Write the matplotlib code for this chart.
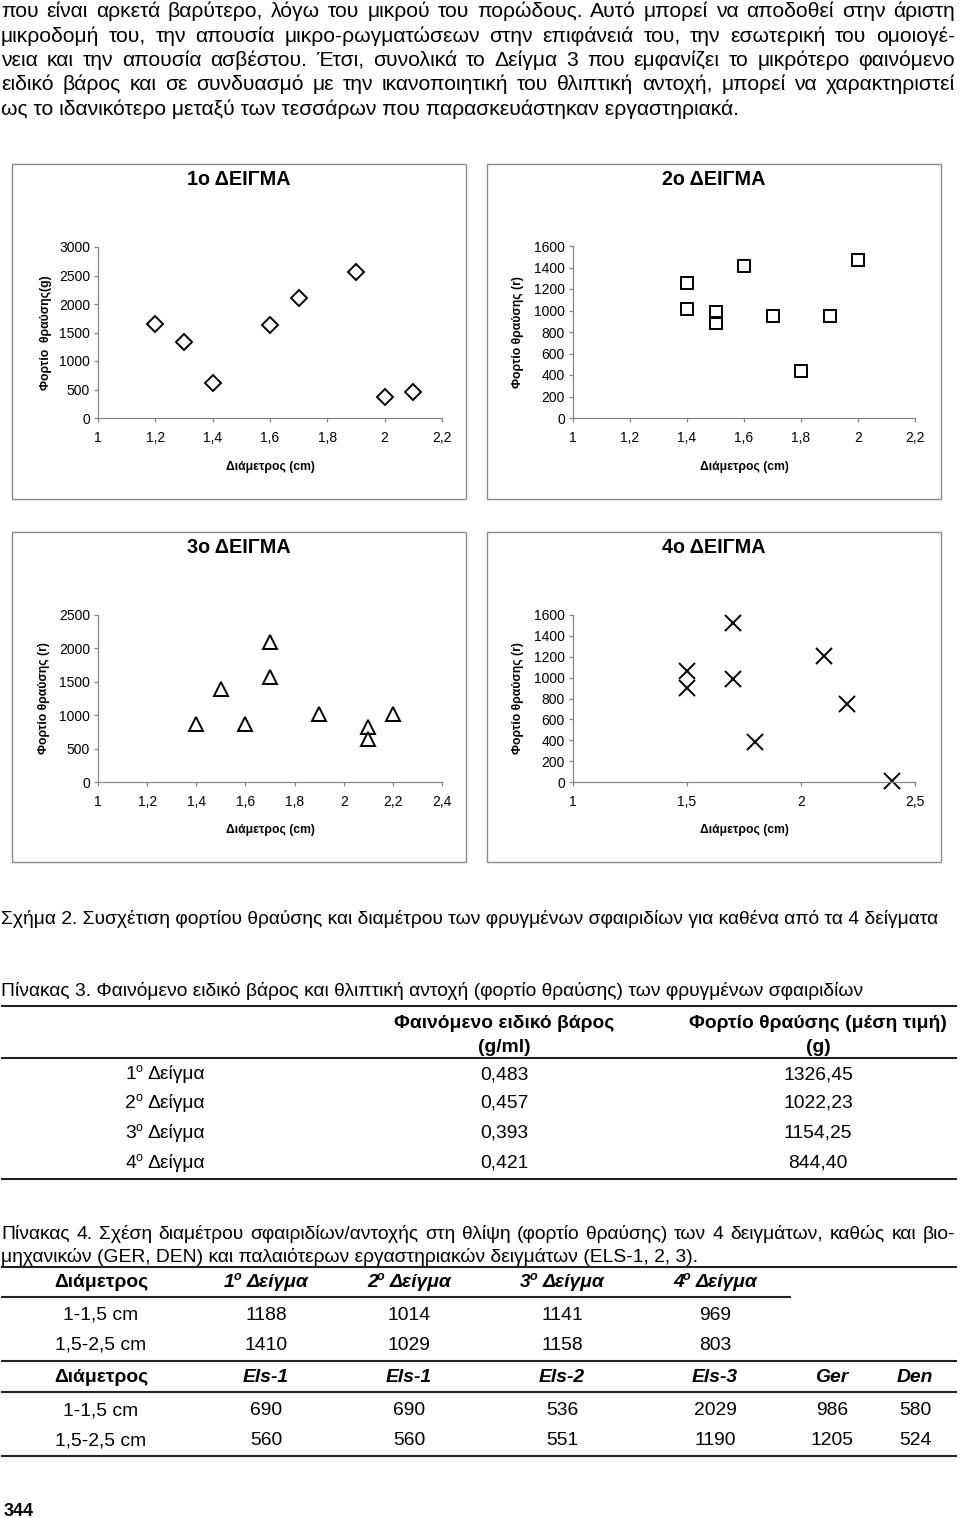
import matplotlib
matplotlib.use('Agg')
import matplotlib.pyplot as plt
from matplotlib.patches import Rectangle
from matplotlib.lines import Line2D

W, H = 960, 1518
plt.rcParams['font.family'] = ['Liberation Sans', 'DejaVu Sans']

# ---------------- DATA ----------------
body_lines = [
    "που είναι αρκετά βαρύτερο, λόγω του μικρού του πορώδους. Αυτό μπορεί να αποδοθεί στην άριστη",
    "μικροδομή του, την απουσία μικρο-ρωγματώσεων στην επιφάνειά του, την εσωτερική του ομοιογέ-",
    "νεια και την απουσία ασβέστου. Έτσι, συνολικά το Δείγμα 3 που εμφανίζει το μικρότερο φαινόμενο",
    "ειδικό βάρος και σε συνδυασμό με την ικανοποιητική του θλιπτική αντοχή, μπορεί να χαρακτηριστεί",
    "ως το ιδανικότερο μεταξύ των τεσσάρων που παρασκευάστηκαν εργαστηριακά.",
]

chart_titles = ["1ο ΔΕΙΓΜΑ", "2ο ΔΕΙΓΜΑ", "3ο ΔΕΙΓΜΑ", "4ο ΔΕΙΓΜΑ"]
chart_ylabels = ["Φορτίο  θραύσης(g)", "Φορτίο θραύσης (r)", "Φορτίο θραύσης (r)", "Φορτίο θραύσης (r)"]
chart_xlabel = "Διάμετρος (cm)"

s1_diam = [1.2, 1.3, 1.4, 1.6, 1.7, 1.9, 2.0, 2.1]
s1_load = [1655, 1333, 614, 1626, 2099, 2567, 363, 456]
s2_diam = [1.4, 1.4, 1.5, 1.5, 1.6, 1.7, 1.8, 1.9, 2.0]
s2_load = [1253, 1015, 987, 882, 1414, 947, 433, 947, 1470]
s3_diam = [1.4, 1.5, 1.6, 1.7, 1.7, 1.9, 2.1, 2.1, 2.2]
s3_load = [875, 1395, 875, 2090, 1575, 1015, 825, 650, 1015]
s4_diam = [1.5, 1.5, 1.7, 1.7, 1.8, 2.1, 2.2, 2.4]
s4_load = [1062, 896, 1526, 986, 384, 1210, 746, 5]

x12_ticks = [1.0, 1.2, 1.4, 1.6, 1.8, 2.0, 2.2]
x12_labels = ["1", "1,2", "1,4", "1,6", "1,8", "2", "2,2"]
x3_ticks = [1.0, 1.2, 1.4, 1.6, 1.8, 2.0, 2.2, 2.4]
x3_labels = ["1", "1,2", "1,4", "1,6", "1,8", "2", "2,2", "2,4"]
x4_ticks = [1.0, 1.5, 2.0, 2.5]
x4_labels = ["1", "1,5", "2", "2,5"]
y1_ticks = [0, 500, 1000, 1500, 2000, 2500, 3000]
y2_ticks = [0, 200, 400, 600, 800, 1000, 1200, 1400, 1600]
y3_ticks = [0, 500, 1000, 1500, 2000, 2500]
y4_ticks = [0, 200, 400, 600, 800, 1000, 1200, 1400, 1600]

caption_fig = "Σχήμα 2. Συσχέτιση φορτίου θραύσης και διαμέτρου των φρυγμένων σφαιριδίων για καθένα από τα 4 δείγματα"
caption_t3 = "Πίνακας 3. Φαινόμενο ειδικό βάρος και θλιπτική αντοχή (φορτίο θραύσης) των φρυγμένων σφαιριδίων"
t3_head1 = ["Φαινόμενο ειδικό βάρος", "Φορτίο θραύσης (μέση τιμή)"]
t3_head2 = ["(g/ml)", "(g)"]
t3_samples = ["1", "2", "3", "4"]
t3_density = ["0,483", "0,457", "0,393", "0,421"]
t3_load = ["1326,45", "1022,23", "1154,25", "844,40"]

caption_t4 = [
    "Πίνακας 4. Σχέση διαμέτρου σφαιριδίων/αντοχής στη θλίψη (φορτίο θραύσης) των 4 δειγμάτων, καθώς και βιο-",
    "μηχανικών (GER, DEN) και παλαιότερων εργαστηριακών δειγμάτων (ELS-1, 2, 3).",
]
t4_rows = ["1-1,5 cm", "1,5-2,5 cm"]
t4_samples = ["1", "2", "3", "4"]
t4_vals_a = [["1188", "1014", "1141", "969"], ["1410", "1029", "1158", "803"]]
t4_cols_b = ["Els-1", "Els-1", "Els-2", "Els-3", "Ger", "Den"]
t4_vals_b = [["690", "690", "536", "2029", "986", "580"], ["560", "560", "551", "1190", "1205", "524"]]
page_no = "344"

# ---------------- FIGURE ----------------
fig = plt.figure(figsize=(W / 100, H / 100), dpi=100)
fig.patch.set_facecolor('white')
renderer = fig.canvas.get_renderer()


def fx(x):
    return x / W


def fy(y):
    return 1 - y / H


def ftext(x, y, s, **kw):
    kw.setdefault('va', 'baseline')
    return fig.text(fx(x), fy(y), s, transform=fig.transFigure, **kw)


def width(t):
    return t.get_window_extent(renderer).width


def justify(line, x0, x1, ybase, **kw):
    words = line.split(' ')
    objs = [ftext(0, ybase, w, ha='left', **kw) for w in words]
    ws = [width(o) for o in objs]
    gap = (x1 - x0 - sum(ws)) / (len(words) - 1)
    x = x0
    for o, w in zip(objs, ws):
        o.set_position((fx(x), fy(ybase)))
        x += w + gap


def runs(xc, ybase, parts):
    """parts: (text, kwargs, dy_px_up, gap_after_px); centered at xc"""
    objs = []
    for s, kw, dy, gap in parts:
        objs.append((ftext(0, ybase, s, ha='left', **kw), dy, gap))
    total = sum(width(o) + g for o, _, g in objs) - objs[-1][2]
    x = xc - total / 2
    for o, dy, g in objs:
        o.set_position((fx(x), fy(ybase - dy)))
        x += width(o) + g


def hrule(x0, x1, y, lw=1.5):
    fig.add_artist(Line2D([fx(x0), fx(x1)], [fy(y), fy(y)], transform=fig.transFigure,
                          color='#222222', lw=lw))


BODY = 15.2
SMALL = 13.9

# body text
body_base = [17, 41.5, 66, 90.5, 115]
for i, (line, yb) in enumerate(zip(body_lines, body_base)):
    if i < len(body_lines) - 1:
        justify(line, 1, 955, yb, fontsize=BODY)
    else:
        ftext(1, yb, line, fontsize=BODY, ha='left')

# ---------------- CHARTS ----------------
GRAY = '#868686'


def chart(panel, axbox, title, ylabel, xs, ys, marker, ms, xt, xtl, yt, ylab_x, xlab_y, title_y):
    l, t, r, b = panel
    fig.add_artist(Rectangle((fx(l), fy(b)), (r - l) / W, (b - t) / H, transform=fig.transFigure,
                             fill=False, ec='#8c8c8c', lw=1.0))
    al, at, ar, ab = axbox
    ax = fig.add_axes([fx(al), fy(ab), (ar - al) / W, (ab - at) / H])
    ax.plot(xs, ys, ls='none', marker=marker, ms=ms, mfc='none', mec='black', mew=1.4, clip_on=False)
    ax.set_xlim(xt[0], xt[-1])
    ax.set_ylim(yt[0], yt[-1])
    ax.set_xticks(xt)
    ax.set_xticklabels(xtl)
    ax.set_yticks(yt)
    ax.set_yticklabels([str(v) for v in yt])
    for s in ('top', 'right'):
        ax.spines[s].set_visible(False)
    for s in ('left', 'bottom'):
        ax.spines[s].set_color(GRAY)
        ax.spines[s].set_linewidth(0.9)
    ax.tick_params(direction='out', length=2.6, width=0.9, color=GRAY, labelcolor='black', labelsize=10)
    ax.tick_params(axis='x', pad=6.8)
    ax.tick_params(axis='y', pad=3.2)
    ax.patch.set_alpha(0)
    ax.set_title(title, x=((l + r) / 2 - al) / (ar - al), y=(ab - title_y) / (ab - at),
                 fontsize=14.2, fontweight='bold', va='center')
    ax.set_xlabel(chart_xlabel, fontsize=8.7, fontweight='bold')
    ax.xaxis.set_label_coords(0.5, (ab - xlab_y) / (ab - at))
    ax.xaxis.label.set_va('center')
    ax.set_ylabel(ylabel, fontsize=8.8, fontweight='bold')
    ax.yaxis.set_label_coords((ylab_x - al) / (ar - al), 0.5)
    ax.yaxis.label.set_va('center')
    return ax


chart((12, 164, 466, 499), (98, 247, 442, 418), chart_titles[0], chart_ylabels[0],
      s1_diam, s1_load, 'D', 8.2, x12_ticks, x12_labels, y1_ticks, 46, 467, 188)
chart((487, 164, 941, 499), (573, 246, 915, 418), chart_titles[1], chart_ylabels[1],
      s2_diam, s2_load, 's', 9.0, x12_ticks, x12_labels, y2_ticks, 518, 467, 188)
chart((12, 532, 466, 862), (98, 615, 442, 782), chart_titles[2], chart_ylabels[2],
      s3_diam, s3_load, '^', 10, x3_ticks, x3_labels, y3_ticks, 44, 830, 556)
chart((487, 532, 941, 862), (573, 615, 915, 782), chart_titles[3], chart_ylabels[3],
      s4_diam, s4_load, 'x', 11, x4_ticks, x4_labels, y4_ticks, 518, 830, 556)

# ---------------- CAPTION + TABLE 3 ----------------
ftext(1, 924, caption_fig, fontsize=SMALL, ha='left')
ftext(1, 996, caption_t3, fontsize=SMALL, ha='left')
hrule(2, 956, 1006)
t3_x = [165, 504, 818]
for j in range(2):
    ftext(t3_x[j + 1], 1028, t3_head1[j], fontsize=SMALL, fontweight='bold', ha='center')
    ftext(t3_x[j + 1], 1052, t3_head2[j], fontsize=SMALL, fontweight='bold', ha='center')
hrule(2, 956, 1058)
t3_rows_y = [1079, 1108, 1138, 1168]
for i, yb in enumerate(t3_rows_y):
    runs(t3_x[0], yb, [(t3_samples[i], dict(fontsize=SMALL), 0, -1),
                       ("o", dict(fontsize=9), 7, 5),
                       ("Δείγμα", dict(fontsize=SMALL), 0, 0)])
    ftext(t3_x[1], yb, t3_density[i], fontsize=SMALL, ha='center')
    ftext(t3_x[2], yb, t3_load[i], fontsize=SMALL, ha='center')
hrule(2, 956, 1179)

# ---------------- CAPTION + TABLE 4 ----------------
justify(caption_t4[0], 1, 955, 1239, fontsize=SMALL)
ftext(1, 1262, caption_t4[1], fontsize=SMALL, ha='left')
hrule(2, 956, 1267)
t4_x = [101, 266, 409, 562, 715, 832, 915]
bi = dict(fontsize=SMALL, fontweight='bold', style='italic')
ftext(t4_x[0], 1287, "Διάμετρος", fontsize=SMALL, fontweight='bold', ha='center')
for j in range(4):
    runs(t4_x[j + 1], 1287, [(t4_samples[j], bi, 0, -1),
                             ("o", dict(fontsize=9, fontweight='bold', style='italic'), 7, 5),
                             ("Δείγμα", bi, 0, 0)])
hrule(2, 790, 1297)
for i, yb in enumerate([1320, 1350]):
    ftext(t4_x[0], yb, t4_rows[i], fontsize=SMALL, ha='center')
    for j in range(4):
        ftext(t4_x[j + 1], yb, t4_vals_a[i][j], fontsize=SMALL, ha='center')
hrule(2, 956, 1361)
ftext(t4_x[0], 1382, "Διάμετρος", fontsize=SMALL, fontweight='bold', ha='center')
for j in range(6):
    ftext(t4_x[j + 1], 1382, t4_cols_b[j], ha='center', **bi)
hrule(2, 956, 1392)
for i, yb in enumerate([1415, 1445]):
    ftext(t4_x[0], yb, t4_rows[i], fontsize=SMALL, ha='center')
    for j in range(6):
        ftext(t4_x[j + 1], yb, t4_vals_b[i][j], fontsize=SMALL, ha='center')
hrule(2, 956, 1456)

ftext(4, 1516, page_no, fontsize=SMALL - 1, fontweight='bold', ha='left')

fig.savefig('out.png', dpi=100)
